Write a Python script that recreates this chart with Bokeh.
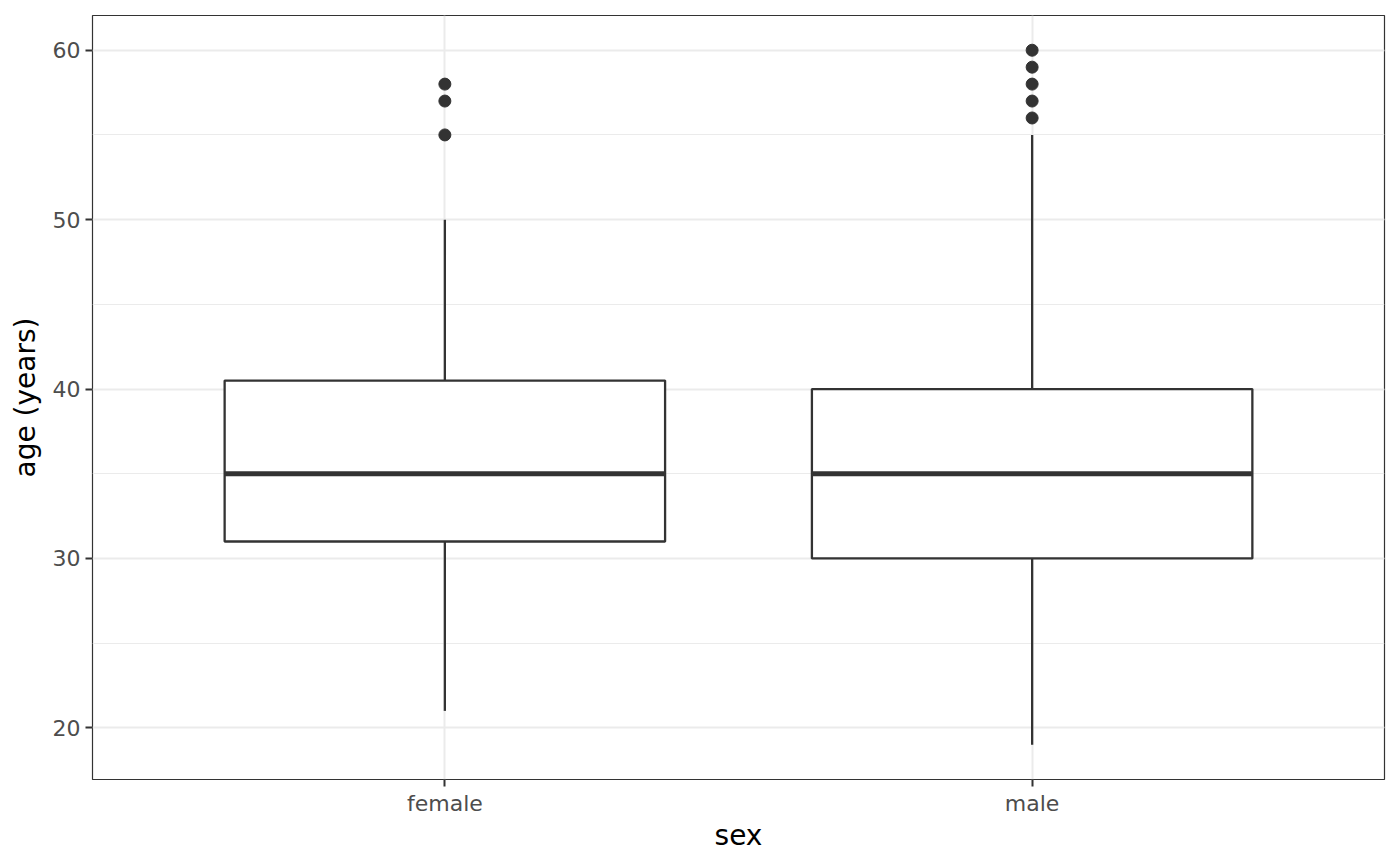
from bokeh.plotting import figure
from bokeh.models import FactorRange, Range1d, SingleIntervalTicker, ColumnDataSource
from bokeh.transform import dodge
from bokeh.embed import file_html
from bokeh.resources import INLINE

categories = ["female", "male"]
q1 = [31, 30]
median = [35, 35]
q3 = [40.5, 40]
whisker_low = [21, 19]
whisker_high = [50, 55]
outliers = {"female": [55, 57, 58], "male": [56, 57, 58, 59, 60]}

x_title = "sex"
y_title = "age (years)"

INK = "#333333"
GRID = "#EBEBEB"
FONT = "DejaVu Sans"

p = figure(
    x_range=FactorRange(factors=categories, range_padding=0.1, range_padding_units="absolute"),
    y_range=Range1d(16.95, 62.05),
    frame_width=1292, frame_height=764,
    min_border_left=92, min_border_top=15, min_border_right=7, min_border_bottom=70,
    output_backend="svg", toolbar_location=None,
    background_fill_color="white", border_fill_color="white",
)

src = ColumnDataSource(dict(cat=categories, q1=q1, med=median, q3=q3,
                            lo=whisker_low, hi=whisker_high))

# whiskers
p.segment(x0="cat", y0="q3", x1="cat", y1="hi", source=src, line_color=INK, line_width=2.3)
p.segment(x0="cat", y0="lo", x1="cat", y1="q1", source=src, line_color=INK, line_width=2.3)
# boxes
p.vbar(x="cat", bottom="q1", top="q3", width=0.75, source=src,
       fill_color="white", line_color=INK, line_width=2.3)
# medians
p.segment(x0=dodge("cat", -0.375, range=p.x_range), y0="med",
          x1=dodge("cat", 0.375, range=p.x_range), y1="med",
          source=src, line_color=INK, line_width=4.8)

ox = [c for c in categories for _ in outliers[c]]
oy = [v for c in categories for v in outliers[c]]
p.scatter(x=ox, y=oy, size=12, fill_color=INK, line_color=INK, marker="circle")

# grids
p.ygrid.ticker = SingleIntervalTicker(interval=10, num_minor_ticks=2)
p.yaxis.ticker = SingleIntervalTicker(interval=10, num_minor_ticks=2)
p.ygrid.grid_line_color = GRID
p.ygrid.grid_line_width = 2
p.ygrid.minor_grid_line_color = GRID
p.ygrid.minor_grid_line_width = 1
p.xgrid.grid_line_color = GRID
p.xgrid.grid_line_width = 2

p.outline_line_color = INK
p.outline_line_width = 1.2

for ax in (p.xaxis, p.yaxis):
    ax.axis_line_color = None
    ax.major_tick_line_color = INK
    ax.major_tick_line_width = 2
    ax.major_tick_in = 0
    ax.major_tick_out = 7
    ax.minor_tick_line_color = None
    ax.major_label_text_font = FONT
    ax.major_label_text_font_size = "22px"
    ax.major_label_text_color = "#4D4D4D"
    ax.axis_label_text_font = FONT
    ax.axis_label_text_font_size = "28px"
    ax.axis_label_text_font_style = "normal"
    ax.axis_label_text_color = "black"

p.xaxis.axis_label = x_title
p.yaxis.axis_label = y_title
p.xaxis.major_label_standoff = 4
p.yaxis.major_label_standoff = 5
p.xaxis.axis_label_standoff = 0
p.yaxis.axis_label_standoff = 8

open("out.html", "w").write(file_html(p, INLINE))
